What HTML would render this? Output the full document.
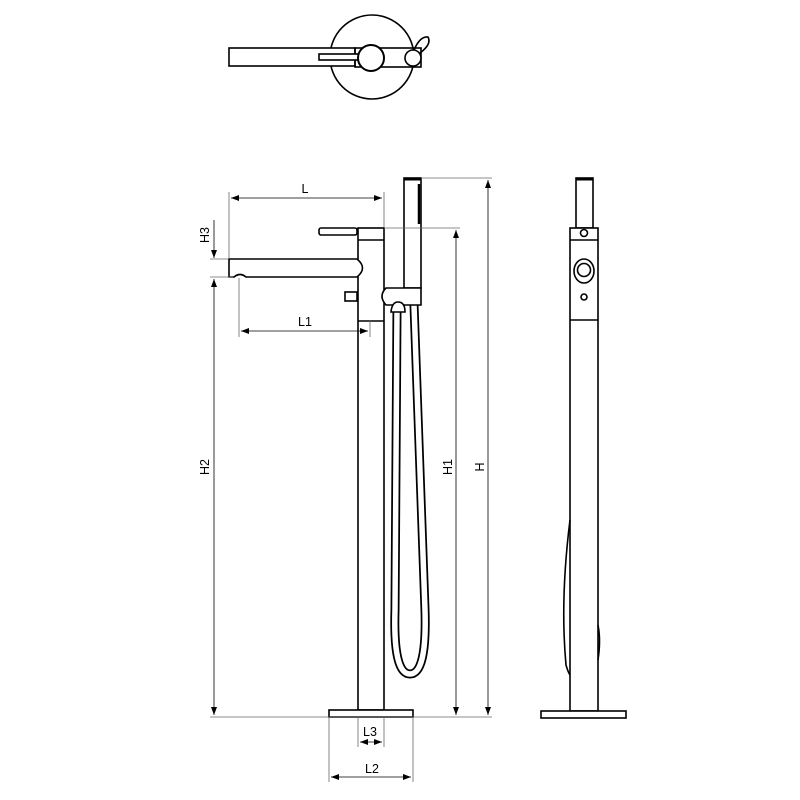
<!DOCTYPE html>
<html><head><style>body{margin:0;background:#fff}svg{display:block}</style></head><body>
<svg width="800" height="800" viewBox="0 0 800 800" xmlns="http://www.w3.org/2000/svg" font-family="Liberation Sans, sans-serif" font-size="12.5">
<defs><marker id="a" markerWidth="8" markerHeight="6" refX="8" refY="3" orient="auto-start-reverse" markerUnits="userSpaceOnUse"><path d="M0,0 L8,3 L0,6z" fill="#000"/></marker></defs>
<g fill="none" stroke="#000" stroke-width="1.6">
<circle cx="372" cy="57" r="42" fill="#fff"/>
<rect x="229" y="48" width="126" height="18" fill="#fff"/>
<rect x="355" y="48" width="66" height="19"/>
<rect x="319" y="54" width="40" height="6" fill="#fff"/>
<path d="M414,50 Q420,36 428,37 Q432,44 420,53"/>
<circle cx="371" cy="58" r="13" fill="#fff" stroke-width="2"/>
<circle cx="413" cy="58" r="8" fill="#fff"/>
<path d="M397,310 L395,610 Q393,674 410,674 Q427,674 425,610 L414,305" stroke-width="9"/>
<path d="M397,310 L395,610 Q393,674 410,674 Q427,674 425,610 L414,305" stroke="#fff" stroke-width="5.5"/>
<rect x="358" y="228" width="26" height="482" fill="none"/>
<line x1="358" y1="321" x2="384" y2="321"/>
<line x1="358" y1="240" x2="384" y2="240"/>
<rect x="319" y="228" width="38" height="7" rx="2" fill="#fff"/>
<path d="M229,259 L357,259 Q368,268 357,277 L246,277 Q240,272 234,277 L229,277 Z" fill="#fff"/>
<rect x="345" y="292" width="12" height="9" fill="#fff"/>
<rect x="404" y="178" width="17" height="110" fill="#fff"/>
<line x1="404" y1="179" x2="421" y2="179" stroke-width="3"/>
<line x1="419" y1="184" x2="419" y2="224" stroke-width="2.5"/>
<path d="M386,288 L421,288 L421,305 L386,305 Q378,296 386,288 Z" fill="#fff"/>
<path d="M391,312 Q392,302 398,302 Q405,302 405,312 Z" fill="#fff"/>
<rect x="329" y="710" width="84" height="7" fill="#fff"/>
<rect x="576" y="178" width="17" height="50"/>
<line x1="576" y1="179" x2="593" y2="179" stroke-width="3"/>
<rect x="570" y="228" width="28" height="483" fill="#fff"/>
<line x1="570" y1="240" x2="598" y2="240"/>
<line x1="570" y1="320" x2="598" y2="320"/>
<circle cx="584" cy="233" r="3.5"/>
<ellipse cx="584" cy="271" rx="10" ry="12"/>
<circle cx="584" cy="270" r="6.5"/>
<circle cx="584" cy="297" r="3"/>
<path d="M570,520 Q560,600 566,665 Q568,672 570,675"/>
<path d="M598,625 Q601,640 598,660"/>
<rect x="541" y="711" width="85" height="7" fill="#fff"/>
</g>
<g stroke="#666" stroke-width="0.8" fill="none">
<line x1="210" y1="717" x2="492" y2="717"/>
<line x1="229" y1="192" x2="229" y2="258"/>
<line x1="384" y1="192" x2="384" y2="227"/>
<line x1="239" y1="278" x2="239" y2="337"/>
<line x1="370" y1="320" x2="370" y2="337"/>
<line x1="210" y1="259" x2="228" y2="259"/>
<line x1="210" y1="277" x2="233" y2="277"/>
<line x1="421" y1="178" x2="492" y2="178"/>
<line x1="384" y1="228" x2="460" y2="228"/>
<line x1="329" y1="717" x2="329" y2="782"/>
<line x1="413" y1="717" x2="413" y2="782"/>
<line x1="358" y1="717" x2="358" y2="747"/>
<line x1="384" y1="717" x2="384" y2="747"/>
</g>
<g stroke="#000" stroke-width="0.8" fill="none">
<line x1="231" y1="198" x2="382" y2="198" marker-start="url(#a)" marker-end="url(#a)"/>
<line x1="241" y1="331" x2="368" y2="331" marker-start="url(#a)" marker-end="url(#a)"/>
<line x1="214" y1="220" x2="214" y2="258" marker-end="url(#a)"/>
<line x1="214" y1="715" x2="214" y2="279" marker-start="url(#a)" marker-end="url(#a)"/>
<line x1="456" y1="230" x2="456" y2="715" marker-start="url(#a)" marker-end="url(#a)"/>
<line x1="488" y1="180" x2="488" y2="715" marker-start="url(#a)" marker-end="url(#a)"/>
<line x1="360" y1="742" x2="382" y2="742" marker-start="url(#a)" marker-end="url(#a)"/>
<line x1="331" y1="777" x2="411" y2="777" marker-start="url(#a)" marker-end="url(#a)"/>
</g>
<g fill="#000" text-anchor="middle">
<text x="305" y="193">L</text>
<text x="305" y="326">L1</text>
<text x="370" y="736">L3</text>
<text x="372" y="773">L2</text>
<text transform="translate(209,235) rotate(-90)">H3</text>
<text transform="translate(209,467) rotate(-90)">H2</text>
<text transform="translate(452,467) rotate(-90)">H1</text>
<text transform="translate(484,467) rotate(-90)">H</text>
</g>
</svg>
</body></html>
